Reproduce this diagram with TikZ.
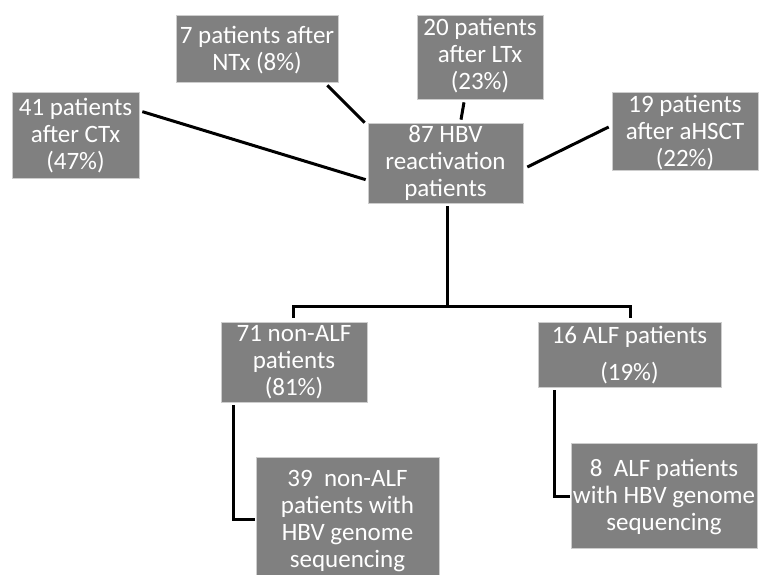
\documentclass[tikz,border=0pt]{standalone}
\usepackage{fontspec}
\setmainfont{Carlito}
\usetikzlibrary{calc}
\definecolor{boxgray}{RGB}{128,128,128}
\definecolor{boxedge}{RGB}{205,205,205}
\tikzset{
  box/.style={rectangle, fill=boxgray, draw=boxedge, line width=0.7pt, inner sep=0pt},
  txt/.style={text=white, align=center, anchor=base, inner sep=0pt,
    font=\fontsize{25}{27}\selectfont},
  link/.style={draw=black, line width=3pt}
}
\newcommand{\mkbox}[5]{% name, left, top, right, bottom
  \node[box, minimum width={#4-#2}, minimum height={#5-#3}] (#1) at ({(#2+#4)/2},{(#3+#5)/2}) {};}
\begin{document}
\begin{tikzpicture}[x=1pt,y=-1pt]
\useasboundingbox (0,0) rectangle (760,574);
\clip (0,0) rectangle (760,574);
\fill[white] (0,0) rectangle (760,574);

% boxes
\mkbox{ntx}{176}{15}{338}{82}
\mkbox{ctx}{12}{92}{139}{178}
\mkbox{ltx}{417}{15}{543}{99}
\mkbox{hsct}{612}{92}{758}{170}
\mkbox{hbv}{368}{123}{523}{203}
\mkbox{nalf}{221}{322}{367}{402}
\mkbox{alf}{538}{322}{721}{387}
\mkbox{seqa}{256}{457}{439}{590}
\mkbox{seqb}{571}{443}{757}{548}

% texts (anchor = baseline of the last line)
\node[txt] (ntx-t) at (257,70) {7 patients after\\NTx (8\%)};
\node[txt] (ctx-t) at (75.5,169) {41 patients\\after CTx\\(47\%)};
\node[txt] (ltx-t) at (480,89) {20 patients\\after LTx\\(23\%)};
\node[txt] (hsct-t) at (685,166) {19 patients\\after aHSCT\\(22\%)};
\node[txt] (hbv-t) at (445.5,196) {87 HBV\\reactivation\\patients};
\node[txt] (nalf-t) at (294,395) {71 non-ALF\\patients\\(81\%)};
\node[txt] (alf-t) at (629.5,380) {16 ALF patients\\[10pt](19\%)};
\node[txt] (seqa-t) at (347.5,567) {39\ \ non-ALF\\patients with\\HBV genome\\sequencing};
\node[txt] (seqb-t) at (664,530) {8\ \ ALF patients\\with HBV genome\\sequencing};

% connectors
\draw[link] ($(ctx.north east)+(3,20)$) -- ($(hbv.north west)+(-2,57)$);
\draw[link] ($(ntx.south east)+(-11,3)$) -- ($(hbv.north west)+(-3,0)$);
\draw[link] ($(ltx.south)+(-16,3)$) -- ($(hbv.north)+(15.5,-3)$);
\draw[link] ($(hbv.east)+(4,4)$) -- ($(hsct.west)+(-3,-4)$);

\coordinate (split) at (447,306);
\draw[link] ($(hbv.south)+(1.5,3)$) -- (split);
\draw[link] ($(nalf.north)+(-1,-4)$) |- (split) -| ($(alf.north)+(0.5,-4)$);

\draw[link] ($(nalf.south west)+(13,3)$) |- ($(seqa.north west)+(-1,63)$);
\draw[link] ($(alf.south west)+(17,3)$) |- ($(seqb.north west)+(-1,54)$);
\end{tikzpicture}
\end{document}
